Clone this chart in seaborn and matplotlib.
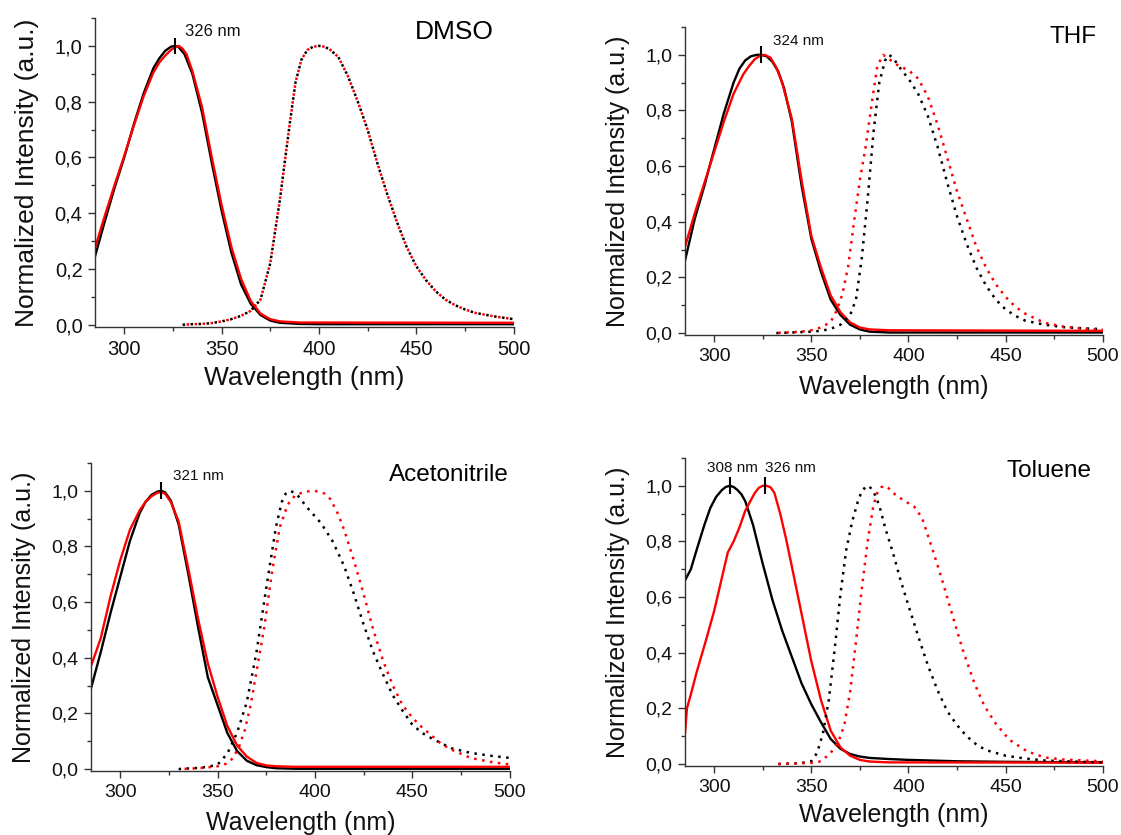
import matplotlib
matplotlib.use("Agg")
import matplotlib.pyplot as plt
import seaborn as sns
from matplotlib.ticker import MultipleLocator, FuncFormatter

# ---------------- DATA ----------------
solvents = ["DMSO", "THF", "Acetonitrile", "Toluene"]

# DMSO
dmso_abs_k_x = [285, 290, 295, 300, 305, 310, 315, 318, 321, 324, 326, 328, 331, 335, 340, 345, 350, 355, 360, 365, 370, 375, 380, 390, 400, 500]
dmso_abs_k_y = [0.245, 0.37, 0.49, 0.60, 0.72, 0.83, 0.92, 0.955, 0.982, 0.997, 1.0, 0.995, 0.97, 0.90, 0.76, 0.58, 0.41, 0.26, 0.145, 0.075, 0.035, 0.015, 0.007, 0.003, 0.002, 0.002]
dmso_abs_r_x = [285, 290, 295, 300, 305, 310, 315, 318, 321, 324, 326, 328, 330, 332, 335, 340, 345, 350, 355, 360, 365, 370, 375, 380, 390, 500]
dmso_abs_r_y = [0.275, 0.39, 0.50, 0.605, 0.715, 0.82, 0.905, 0.94, 0.965, 0.985, 0.995, 1.0, 0.99, 0.97, 0.91, 0.78, 0.60, 0.43, 0.28, 0.165, 0.085, 0.04, 0.02, 0.012, 0.008, 0.007]
dmso_em_k_x = [330, 335, 340, 345, 350, 355, 360, 365, 370, 375, 380, 385, 388, 391, 394, 397, 400, 403, 406, 410, 415, 420, 425, 430, 435, 440, 445, 450, 455, 460, 465, 470, 475, 480, 490, 500]
dmso_em_k_y = [0.0, 0.002, 0.003, 0.006, 0.012, 0.02, 0.032, 0.05, 0.09, 0.22, 0.45, 0.72, 0.87, 0.95, 0.985, 0.997, 1.0, 0.997, 0.985, 0.96, 0.89, 0.80, 0.70, 0.58, 0.47, 0.37, 0.28, 0.21, 0.16, 0.12, 0.09, 0.07, 0.055, 0.043, 0.03, 0.02]
dmso_em_r_x = [330, 335, 340, 345, 350, 355, 360, 365, 370, 375, 380, 385, 388, 391, 394, 397, 400, 403, 406, 410, 415, 420, 425, 430, 435, 440, 445, 450, 455, 460, 465, 470, 475, 480, 490, 500]
dmso_em_r_y = [0.0, 0.002, 0.003, 0.006, 0.012, 0.02, 0.032, 0.05, 0.09, 0.22, 0.45, 0.72, 0.87, 0.95, 0.985, 0.997, 1.0, 0.997, 0.985, 0.96, 0.89, 0.80, 0.70, 0.58, 0.47, 0.37, 0.28, 0.21, 0.16, 0.12, 0.09, 0.07, 0.055, 0.043, 0.03, 0.02]

# THF
thf_abs_k_x = [285, 290, 295, 300, 305, 310, 313, 316, 319, 322, 324, 327, 330, 333, 336, 340, 345, 350, 355, 360, 365, 370, 375, 380, 390, 500]
thf_abs_k_y = [0.26, 0.41, 0.53, 0.66, 0.79, 0.90, 0.95, 0.98, 0.995, 1.0, 1.0, 0.995, 0.975, 0.94, 0.88, 0.76, 0.53, 0.34, 0.22, 0.12, 0.065, 0.03, 0.013, 0.005, 0.002, 0.002]
thf_abs_r_x = [285, 290, 295, 300, 305, 310, 315, 318, 321, 324, 326, 329, 332, 335, 340, 345, 350, 355, 360, 365, 370, 375, 380, 390, 500]
thf_abs_r_y = [0.31, 0.43, 0.54, 0.65, 0.76, 0.86, 0.93, 0.96, 0.985, 0.998, 1.0, 0.99, 0.955, 0.90, 0.77, 0.55, 0.35, 0.235, 0.135, 0.075, 0.038, 0.02, 0.013, 0.01, 0.008]
thf_em_k_x = [332, 340, 350, 355, 360, 365, 370, 373, 376, 379, 382, 385, 388, 390, 392, 394, 397, 400, 405, 410, 415, 420, 425, 430, 435, 440, 445, 450, 455, 460, 470, 480, 490, 500]
thf_em_k_y = [0.0, 0.002, 0.005, 0.008, 0.015, 0.03, 0.065, 0.12, 0.27, 0.48, 0.72, 0.90, 0.98, 1.0, 0.99, 0.97, 0.94, 0.915, 0.86, 0.78, 0.67, 0.54, 0.42, 0.32, 0.235, 0.17, 0.12, 0.085, 0.062, 0.045, 0.03, 0.021, 0.017, 0.014]
thf_em_r_x = [331, 340, 345, 350, 355, 360, 363, 366, 369, 372, 375, 378, 381, 384, 387, 390, 395, 400, 405, 410, 415, 420, 425, 430, 435, 440, 445, 450, 455, 460, 470, 480, 490, 500]
thf_em_r_y = [0.0, 0.003, 0.005, 0.01, 0.02, 0.04, 0.08, 0.14, 0.24, 0.40, 0.55, 0.67, 0.82, 0.96, 1.0, 0.985, 0.96, 0.945, 0.915, 0.85, 0.75, 0.63, 0.51, 0.41, 0.31, 0.235, 0.175, 0.13, 0.095, 0.07, 0.037, 0.023, 0.016, 0.012]

# Acetonitrile
acn_abs_k_x = [285, 290, 295, 300, 305, 310, 313, 316, 319, 321, 323, 326, 330, 335, 340, 345, 350, 355, 360, 365, 370, 375, 380, 390, 500]
acn_abs_k_y = [0.29, 0.42, 0.56, 0.69, 0.82, 0.92, 0.96, 0.985, 0.997, 1.0, 0.995, 0.965, 0.88, 0.70, 0.51, 0.33, 0.23, 0.13, 0.065, 0.03, 0.014, 0.007, 0.003, 0.001, 0.001]
acn_abs_r_x = [285, 290, 295, 300, 305, 310, 313, 316, 319, 321, 323, 326, 330, 335, 340, 345, 350, 355, 360, 365, 370, 375, 380, 390, 500]
acn_abs_r_y = [0.37, 0.47, 0.62, 0.75, 0.86, 0.93, 0.96, 0.98, 0.993, 0.995, 0.99, 0.96, 0.89, 0.72, 0.54, 0.38, 0.26, 0.155, 0.085, 0.045, 0.022, 0.013, 0.01, 0.008, 0.008]
acn_em_k_x = [330, 340, 345, 350, 355, 360, 365, 370, 375, 380, 383, 385, 387, 389, 391, 396, 403, 409, 415, 420, 425, 430, 435, 440, 445, 450, 455, 460, 470, 480, 490, 500]
acn_em_k_y = [0.0, 0.004, 0.008, 0.016, 0.055, 0.13, 0.24, 0.42, 0.65, 0.87, 0.96, 0.99, 1.0, 0.995, 0.985, 0.94, 0.885, 0.82, 0.73, 0.63, 0.52, 0.42, 0.34, 0.265, 0.21, 0.16, 0.13, 0.11, 0.075, 0.058, 0.048, 0.04]
acn_em_r_x = [331, 340, 345, 350, 355, 358, 361, 364, 367, 370, 374, 378, 382, 386, 390, 395, 400, 405, 408, 412, 415, 420, 425, 430, 435, 440, 445, 450, 455, 460, 465, 470, 480, 490, 500]
acn_em_r_y = [0.0, 0.003, 0.006, 0.01, 0.02, 0.04, 0.08, 0.14, 0.23, 0.35, 0.51, 0.71, 0.87, 0.95, 0.985, 0.997, 1.0, 0.99, 0.97, 0.915, 0.86, 0.75, 0.63, 0.50, 0.39, 0.30, 0.23, 0.185, 0.15, 0.12, 0.09, 0.07, 0.04, 0.026, 0.016]

# Toluene
tol_abs_k_x = [285, 288, 291, 295, 298, 301, 304, 306, 308, 310, 312, 314, 316, 320, 325, 330, 335, 340, 345, 350, 355, 360, 365, 370, 375, 380, 390, 400, 425, 450, 500]
tol_abs_k_y = [0.66, 0.70, 0.77, 0.86, 0.92, 0.96, 0.985, 0.996, 1.0, 0.996, 0.985, 0.97, 0.945, 0.86, 0.72, 0.59, 0.48, 0.385, 0.29, 0.215, 0.15, 0.09, 0.055, 0.036, 0.027, 0.022, 0.018, 0.015, 0.01, 0.008, 0.006]
tol_abs_r_x = [285, 286, 288, 291, 296, 300, 303, 307, 310, 313, 316, 319, 321, 323, 325, 327, 329, 331, 334, 337, 340, 345, 350, 355, 360, 365, 370, 375, 380, 390, 500]
tol_abs_r_y = [0.11, 0.20, 0.25, 0.33, 0.45, 0.55, 0.64, 0.76, 0.80, 0.85, 0.91, 0.95, 0.975, 0.993, 1.0, 1.0, 0.995, 0.975, 0.90, 0.81, 0.71, 0.54, 0.37, 0.23, 0.12, 0.06, 0.03, 0.015, 0.009, 0.006, 0.005]
tol_em_k_x = [333, 340, 345, 350, 353, 356, 359, 362, 365, 368, 371, 374, 376, 378, 379, 380, 382, 385, 388, 392, 396, 400, 405, 410, 415, 420, 425, 430, 435, 440, 450, 460, 470, 485, 500]
tol_em_k_y = [0.0, 0.002, 0.004, 0.01, 0.04, 0.11, 0.23, 0.41, 0.61, 0.77, 0.87, 0.945, 0.98, 0.997, 1.0, 0.997, 0.98, 0.93, 0.85, 0.76, 0.66, 0.57, 0.46, 0.355, 0.265, 0.19, 0.14, 0.10, 0.07, 0.05, 0.03, 0.02, 0.013, 0.009, 0.006]
tol_em_r_x = [331, 340, 350, 355, 360, 364, 367, 370, 373, 376, 379, 382, 384, 386, 388, 390, 392, 397, 403, 407, 412, 417, 422, 428, 434, 439, 445, 452, 461, 470, 480, 500]
tol_em_r_y = [0.0, 0.002, 0.004, 0.01, 0.04, 0.08, 0.14, 0.26, 0.44, 0.63, 0.80, 0.93, 0.975, 0.995, 1.0, 0.99, 0.975, 0.95, 0.925, 0.885, 0.78, 0.67, 0.55, 0.41, 0.29, 0.21, 0.145, 0.087, 0.046, 0.024, 0.016, 0.01]

# peak annotations
peaks = [[326], [324], [321], [308, 326]]
peak_labels = [["326 nm"], ["324 nm"], ["321 nm"], ["308 nm", "326 nm"]]

x_ticks = [300, 350, 400, 450, 500]
y_ticks = [0.0, 0.2, 0.4, 0.6, 0.8, 1.0]

curves = [
    [(dmso_abs_k_x, dmso_abs_k_y), (dmso_abs_r_x, dmso_abs_r_y), (dmso_em_k_x, dmso_em_k_y), (dmso_em_r_x, dmso_em_r_y)],
    [(thf_abs_k_x, thf_abs_k_y), (thf_abs_r_x, thf_abs_r_y), (thf_em_k_x, thf_em_k_y), (thf_em_r_x, thf_em_r_y)],
    [(acn_abs_k_x, acn_abs_k_y), (acn_abs_r_x, acn_abs_r_y), (acn_em_k_x, acn_em_k_y), (acn_em_r_x, acn_em_r_y)],
    [(tol_abs_k_x, tol_abs_k_y), (tol_abs_r_x, tol_abs_r_y), (tol_em_k_x, tol_em_k_y), (tol_em_r_x, tol_em_r_y)],
]

# ---------------- STYLE / LAYOUT ----------------
sns.set_theme(style="ticks")
plt.rcParams["font.family"] = ["Liberation Sans", "DejaVu Sans"]

W, H = 1121, 835
fig = plt.figure(figsize=(W / 100, H / 100), dpi=100)

# axes boxes in pixels: left, top, right, bottom
boxes = [(95, 18, 513.6, 326.7), (685, 27, 1102.7, 335), (91, 463, 509.6, 771), (685, 458, 1102.7, 766)]
tick_fs = [14.5, 14, 14, 14]
ylab_fs = [19, 18, 18, 18]
xlab_fs = [19, 18, 18, 18]
xlab_pad = [5, 7, 7, 5]
solv_fs = [19, 17.5, 17.5, 17.5]
peak_fs = [12, 11, 11, 11]
solv_pos = [(490, 1.05), (497, 1.065), (499.5, 1.056), (494, 1.052)]
peak_text_pos = [[(331.4, 1.05)], [(330.4, 1.05)], [(327, 1.052)], [(296.2, 1.065), (326, 1.065)]]

styles = [
    dict(color="black", linestyle="-", linewidth=1.7),
    dict(color="#ff0000", linestyle="-", linewidth=1.7),
    dict(color="black", linestyle=(0, (1, 2.2)), linewidth=1.8),
    dict(color="#ff0000", linestyle=(1.6, (1, 2.2)), linewidth=1.8),
]

comma = FuncFormatter(lambda v, p: f"{v:.1f}".replace(".", ","))

for i in range(4):
    l, t, r, b = boxes[i]
    ax = fig.add_axes([l / W, 1 - b / H, (r - l) / W, (b - t) / H])
    for (xs, ys), st in zip(curves[i], styles):
        sns.lineplot(x=xs, y=ys, ax=ax, sort=False, estimator=None, errorbar=None,
                     solid_joinstyle="round", **st)
    for pk, lab, pos in zip(peaks[i], peak_labels[i], peak_text_pos[i]):
        ax.vlines(pk, 0.972, 1.03, color="black", linewidth=1.5)
        ax.text(pos[0], pos[1], lab, fontsize=peak_fs[i], ha="left", va="center", color="#111111")
    ax.text(solv_pos[i][0], solv_pos[i][1], solvents[i], fontsize=solv_fs[i], ha="right", va="center", color="black")

    ax.set_xlim(285, 500)
    ax.set_ylim(-0.007, 1.10)
    ax.set_xticks(x_ticks)
    ax.set_yticks(y_ticks)
    ax.xaxis.set_minor_locator(MultipleLocator(25))
    ax.yaxis.set_minor_locator(MultipleLocator(0.1))
    ax.yaxis.set_major_formatter(comma)
    ax.tick_params(axis="both", which="major", direction="out", length=5, width=1,
                   labelsize=tick_fs[i], color="#333333", labelcolor="#111111")
    ax.tick_params(axis="x", which="major", pad=4.5)
    ax.tick_params(axis="y", which="major", pad=4)
    ax.tick_params(axis="both", which="minor", direction="out", length=3, width=1, color="#333333")
    for s in ["left", "bottom"]:
        ax.spines[s].set_color("#333333")
        ax.spines[s].set_linewidth(1.0)
    sns.despine(ax=ax)
    ax.set_xlabel("Wavelength (nm)", fontsize=xlab_fs[i], labelpad=xlab_pad[i], color="#111111")
    ax.set_ylabel("Normalized Intensity (a.u.)", fontsize=ylab_fs[i], labelpad=11, color="#111111")

fig.savefig("out.png", dpi=100)
